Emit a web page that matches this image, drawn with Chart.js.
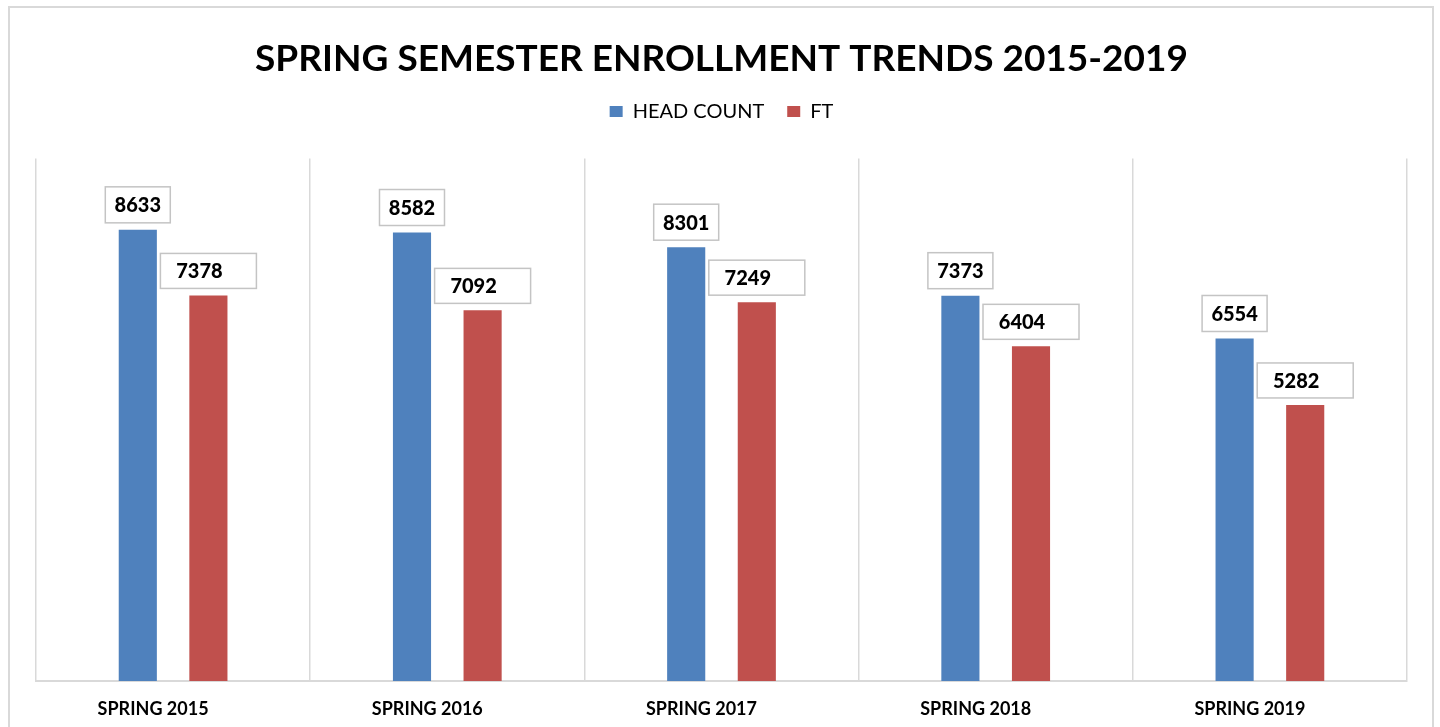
<!DOCTYPE html>
<html>
<head>
<meta charset="utf-8">
<title>Spring Semester Enrollment Trends 2015-2019</title>
<script src="https://cdn.jsdelivr.net/npm/chart.js@4.4.1/dist/chart.umd.min.js"></script>
<style>
    html, body { margin: 0; padding: 0; background: #fff; overflow: hidden; }
    #frame {
        position: absolute; left: 8px; top: 6px; width: 1426px; height: 740px;
        border: 2px solid #d9d9d9; box-sizing: border-box;
    }
    #wrap { position: absolute; left: 0; top: 0; width: 1440px; height: 727px; }
</style>
</head>
<body>
<div id="frame"></div>
<div id="wrap"><canvas id="enrollmentChart" width="1440" height="727"></canvas></div>
<script>
const categories = ["SPRING 2015", "SPRING 2016", "SPRING 2017", "SPRING 2018", "SPRING 2019"];
const headCount = [8633, 8582, 8301, 7373, 6554];
const fullTime = [7378, 7092, 7249, 6404, 5282];
const seriesNames = ["HEAD COUNT", "FT"];

// boxed value labels above each bar, like the Excel data callouts
const boxedLabels = {
    id: "boxedLabels",
    afterDatasetsDraw(chart) {
        const ctx = chart.ctx;
        ctx.save();
        ctx.font = "900 20px Lato";
        ctx.textBaseline = "middle";
        chart.data.datasets.forEach((ds, di) => {
            const meta = chart.getDatasetMeta(di);
            const w = di === 0 ? 65 : 96;
            const h = di === 0 ? 36 : 35;
            const textShift = di === 0 ? 0 : -9;
            meta.data.forEach((bar, i) => {
                const bx = bar.x - w / 2;
                const by = bar.y - 7 - h;
                ctx.fillStyle = "#ffffff";
                ctx.fillRect(bx, by, w, h);
                ctx.strokeStyle = "#c4c4c4";
                ctx.lineWidth = 1.5;
                ctx.strokeRect(bx, by, w, h);
                ctx.fillStyle = "#000000";
                ctx.textAlign = "center";
                ctx.fillText(String(ds.data[i]), bar.x + textShift, by + h / 2 + 1);
            });
        });
        ctx.restore();
    }
};

// extra room between the legend and the plot area
const legendGap = {
    id: "legendGap",
    beforeInit(chart) {
        const fit = chart.legend.fit;
        chart.legend.fit = function () {
            fit.call(this);
            this.height += 27;
        };
    }
};

const ctx = document.getElementById("enrollmentChart").getContext("2d");

new Chart(ctx, {
    type: "bar",
    data: {
        labels: categories,
        datasets: [
            {
                label: seriesNames[0],
                data: headCount,
                backgroundColor: "#4f81bd",
                categoryPercentage: 0.515,
                barPercentage: 0.54,
            },
            {
                label: seriesNames[1],
                data: fullTime,
                backgroundColor: "#c0504d",
                categoryPercentage: 0.515,
                barPercentage: 0.54,
            },
        ],
    },
    options: {
        responsive: false,
        animation: false,
        layout: {
            padding: { left: 36, right: 33, top: 0, bottom: 0 },
        },
        plugins: {
            title: {
                display: true,
                text: "SPRING SEMESTER ENROLLMENT TRENDS 2015-2019",
                color: "#000000",
                font: { family: "Lato", size: 37, weight: "bold" },
                padding: { top: 37, bottom: -3 },
            },
            legend: {
                display: true,
                position: "top",
                labels: {
                    color: "#000000",
                    font: { family: "Lato", size: 20 },
                    boxWidth: 13,
                    boxHeight: 11,
                    padding: 23,
                },
            },
            tooltip: { enabled: false },
        },
        scales: {
            x: {
                grid: {
                    color: "#d9d9d9",
                    lineWidth: 1.5,
                    drawTicks: false,
                    tickLength: 0,
                },
                border: { color: "#d9d9d9", width: 2 },
                ticks: {
                    color: "#000000",
                    font: { family: "Lato", size: 18, weight: "bold" },
                    padding: 17,
                    labelOffset: -20,
                },
                afterFit(scale) {
                    scale.height = 46;
                },
            },
            y: {
                display: false,
                min: 0,
                max: 10000,
            },
        },
    },
    plugins: [boxedLabels, legendGap],
});
</script>
</body>
</html>
